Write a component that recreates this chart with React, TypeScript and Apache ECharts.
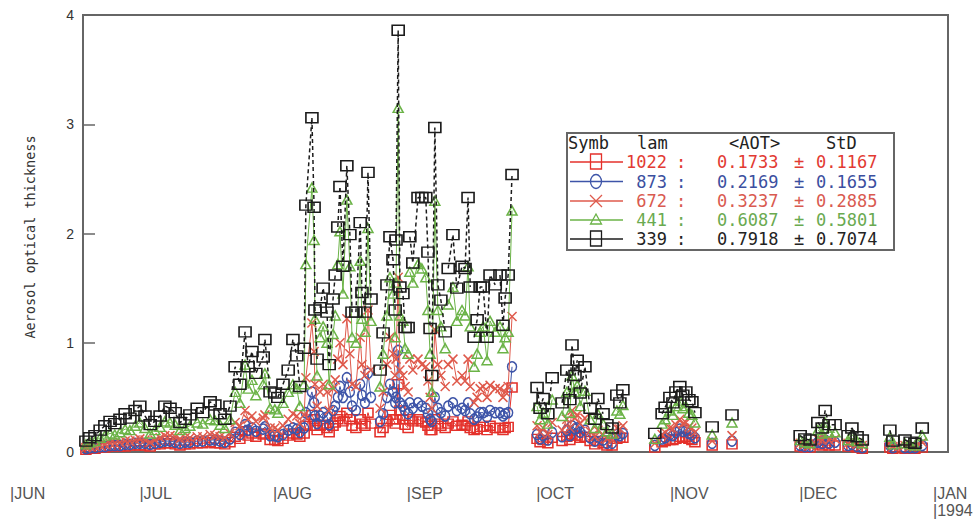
import React, { useEffect, useRef } from "react";
import * as echarts from "echarts";

// x axis: days since 1 June 1993
const monthTicks = [0, 30, 61, 92, 122, 153, 183, 214];
const monthLabels = ["|JUN", "|JUL", "|AUG", "|SEP", "|OCT", "|NOV", "|DEC", "|JAN\n|1994"];

const wavelengths = ["1022", "873", "672", "441", "339"];
const meanAot = ["0.1733", "0.2169", "0.3237", "0.6087", "0.7918"];
const stdAot = ["0.1167", "0.1655", "0.2885", "0.5801", "0.7074"];

// measurement runs (days since 1 June 1993)
const days = [
  [17.6, 18.5, 19.7, 20.9, 22.0, 23.2, 24.3, 25.5, 26.7, 27.8, 29.0, 30.1, 31.3, 32.5, 33.6, 34.8, 35.9, 37.1, 38.3, 39.4, 40.6, 41.7, 43.4, 44.7, 46.4, 47.5, 48.7, 49.8, 51.0, 52.2, 53.3, 54.5, 55.2, 56.1, 57.0, 58.7, 59.1, 60.3, 61.4],
  [62.1, 63.3, 64.5, 65.6, 66.5, 67.2],
  [68.2, 68.6, 70.0, 70.5, 70.7, 71.2],
  [71.9, 72.6, 73.5, 74.0, 74.9, 75.4],
  [76.0, 76.5, 77.2, 78.1, 78.8, 79.3],
  [80.2, 81.2, 81.6, 82.3, 83.0, 83.7],
  [85.8, 86.5, 87.4, 88.1, 88.8, 89.3],
  [89.5, 90.0, 90.4, 91.1, 91.6, 92.3],
  [92.7, 93.4, 94.6, 95.5, 96.4, 96.9, 97.4],
  [97.8, 98.5, 99.2, 99.9, 100.9],
  [101.6, 102.7, 103.6, 104.8, 105.5, 106.2, 106.7],
  [107.6, 108.3, 109.0, 109.7, 110.6, 111.3, 112.5],
  [113.6, 114.3, 114.8, 115.5, 116.4],
  [122.2, 122.9, 123.6, 124.7, 125.7],
  [128.0, 129.1, 129.8, 130.3, 131.0, 131.5, 132.2, 133.3, 134.5],
  [135.6, 136.3, 137.5],
  [138.4, 139.6],
  [140.7, 141.4, 142.1],
  [149.5],
  [151.2, 151.9, 153.0, 153.7, 154.4, 155.3, 156.0, 156.7, 157.4, 158.1, 158.8],
  [162.8],
  [167.4],
  [183.2, 184.3, 185.5],
  [187.3, 188.3, 189.0, 189.9, 191.3],
  [194.3, 195.2, 196.4, 197.6],
  [204.0, 204.7],
  [207.5, 208.7, 209.8, 211.5],
];

const aot339 = [
  [0.10, 0.13, 0.15, 0.20, 0.24, 0.28, 0.26, 0.30, 0.35, 0.31, 0.38, 0.42, 0.33, 0.25, 0.28, 0.33, 0.42, 0.40, 0.36, 0.27, 0.30, 0.34, 0.40, 0.36, 0.46, 0.43, 0.35, 0.30, 0.42, 0.78, 0.62, 1.10, 0.78, 0.92, 0.72, 0.87, 1.03, 0.55, 0.54],
  [0.50, 0.62, 0.75, 1.03, 0.88, 0.60],
  [0.95, 2.26, 3.06, 2.24, 1.30, 0.85],
  [1.32, 1.50, 1.28, 0.80, 1.40, 1.62],
  [2.06, 2.43, 1.70, 2.62, 1.99, 1.28],
  [1.28, 2.10, 1.46, 1.28, 2.56, 1.40],
  [0.75, 1.09, 1.53, 1.97, 1.76, 1.30],
  [1.94, 3.86, 1.51, 1.45, 1.14, 1.14],
  [1.97, 1.73, 2.33, 2.33, 2.33, 1.83, 1.13],
  [0.70, 2.97, 1.53, 1.39, 1.10],
  [1.68, 1.99, 1.50, 1.70, 1.68, 2.33, 1.51],
  [1.05, 1.21, 1.51, 1.51, 1.05, 1.62, 1.53],
  [1.62, 1.16, 1.41, 1.62, 2.54],
  [0.59, 0.40, 0.49, 0.35, 0.68],
  [0.45, 0.75, 0.48, 0.98, 0.70, 0.84, 0.54, 0.78, 0.40],
  [0.30, 0.49, 0.35],
  [0.25, 0.22],
  [0.52, 0.45, 0.57],
  [0.17],
  [0.35, 0.41, 0.50, 0.45, 0.55, 0.60, 0.52, 0.55, 0.48, 0.46, 0.36],
  [0.23],
  [0.34],
  [0.15, 0.12, 0.11],
  [0.27, 0.22, 0.38, 0.25, 0.25],
  [0.15, 0.22, 0.14, 0.11],
  [0.20, 0.10],
  [0.11, 0.09, 0.08, 0.22],
];

const aot441 = [
  [0.07, 0.09, 0.10, 0.13, 0.15, 0.17, 0.16, 0.18, 0.21, 0.20, 0.24, 0.27, 0.22, 0.17, 0.20, 0.23, 0.28, 0.27, 0.25, 0.20, 0.22, 0.24, 0.27, 0.26, 0.30, 0.29, 0.25, 0.22, 0.30, 0.55, 0.45, 0.80, 0.58, 0.66, 0.52, 0.62, 0.72, 0.40, 0.39],
  [0.36, 0.45, 0.55, 0.62, 0.58, 0.42],
  [0.62, 1.72, 2.42, 1.94, 1.22, 0.70],
  [1.05, 1.15, 1.00, 0.62, 1.08, 1.25],
  [1.72, 2.02, 1.45, 2.31, 1.70, 1.05],
  [1.00, 1.75, 1.22, 1.10, 2.05, 1.20],
  [0.60, 0.90, 1.25, 1.60, 1.45, 1.05],
  [1.55, 3.15, 1.25, 1.20, 0.95, 0.90],
  [1.65, 1.55, 1.72, 1.68, 1.60, 1.30, 0.90],
  [0.55, 2.30, 1.30, 1.15, 0.95],
  [1.35, 1.51, 1.20, 1.30, 1.25, 1.70, 1.15],
  [0.78, 0.90, 1.10, 1.15, 0.84, 1.20, 1.10],
  [1.15, 0.95, 1.05, 1.10, 2.21],
  [0.42, 0.30, 0.36, 0.26, 0.48],
  [0.33, 0.55, 0.36, 0.70, 0.55, 0.61, 0.42, 0.56, 0.30],
  [0.22, 0.35, 0.26],
  [0.19, 0.17],
  [0.38, 0.35, 0.43],
  [0.12],
  [0.26, 0.30, 0.38, 0.34, 0.42, 0.47, 0.40, 0.42, 0.36, 0.34, 0.27],
  [0.16],
  [0.27],
  [0.11, 0.09, 0.08],
  [0.20, 0.17, 0.27, 0.18, 0.18],
  [0.11, 0.16, 0.10, 0.08],
  [0.14, 0.07],
  [0.08, 0.07, 0.06, 0.15],
];

const aot672 = [
  [0.04, 0.05, 0.05, 0.06, 0.07, 0.08, 0.08, 0.09, 0.10, 0.10, 0.11, 0.12, 0.11, 0.09, 0.11, 0.13, 0.15, 0.15, 0.14, 0.12, 0.13, 0.13, 0.14, 0.14, 0.16, 0.15, 0.14, 0.13, 0.17, 0.27, 0.24, 0.38, 0.30, 0.33, 0.28, 0.31, 0.34, 0.22, 0.22],
  [0.20, 0.24, 0.30, 0.35, 0.33, 0.26],
  [0.34, 0.68, 1.18, 0.92, 0.62, 0.42],
  [0.55, 0.62, 0.55, 0.38, 0.58, 0.66],
  [0.85, 1.00, 0.80, 1.22, 0.90, 0.62],
  [0.60, 1.05, 0.80, 0.70, 1.30, 0.75],
  [0.40, 0.55, 0.80, 1.05, 0.90, 0.70],
  [0.85, 1.60, 0.75, 0.70, 0.60, 0.55],
  [0.85, 0.75, 0.85, 0.80, 0.78, 0.65, 0.50],
  [0.40, 1.12, 0.80, 0.70, 0.60],
  [0.80, 0.85, 0.65, 0.70, 0.65, 0.85, 0.60],
  [0.45, 0.50, 0.58, 0.60, 0.50, 0.61, 0.58],
  [0.58, 0.50, 0.55, 0.60, 1.24],
  [0.24, 0.18, 0.22, 0.16, 0.27],
  [0.20, 0.30, 0.22, 0.38, 0.31, 0.34, 0.26, 0.31, 0.19],
  [0.14, 0.20, 0.16],
  [0.12, 0.11],
  [0.22, 0.21, 0.24],
  [0.08],
  [0.16, 0.18, 0.22, 0.21, 0.25, 0.30, 0.26, 0.27, 0.23, 0.22, 0.18],
  [0.10],
  [0.15],
  [0.08, 0.07, 0.06],
  [0.12, 0.11, 0.16, 0.11, 0.12],
  [0.08, 0.10, 0.07, 0.06],
  [0.08, 0.05],
  [0.06, 0.05, 0.05, 0.09],
];

const aot873 = [
  [0.03, 0.04, 0.04, 0.05, 0.05, 0.06, 0.06, 0.06, 0.07, 0.07, 0.08, 0.08, 0.08, 0.07, 0.08, 0.09, 0.10, 0.10, 0.09, 0.08, 0.09, 0.09, 0.10, 0.10, 0.11, 0.11, 0.10, 0.09, 0.12, 0.18, 0.16, 0.25, 0.20, 0.22, 0.19, 0.21, 0.23, 0.15, 0.15],
  [0.14, 0.16, 0.20, 0.22, 0.21, 0.18],
  [0.22, 0.36, 0.55, 0.45, 0.33, 0.26],
  [0.33, 0.36, 0.32, 0.25, 0.38, 0.42],
  [0.50, 0.60, 0.50, 0.68, 0.55, 0.42],
  [0.38, 0.62, 0.52, 0.45, 0.72, 0.50],
  [0.28, 0.35, 0.50, 0.62, 0.55, 0.45],
  [0.50, 0.93, 0.45, 0.42, 0.38, 0.35],
  [0.45, 0.40, 0.45, 0.42, 0.40, 0.35, 0.30],
  [0.28, 0.50, 0.40, 0.36, 0.33],
  [0.42, 0.45, 0.38, 0.40, 0.38, 0.45, 0.35],
  [0.30, 0.32, 0.36, 0.36, 0.32, 0.38, 0.36],
  [0.36, 0.33, 0.35, 0.36, 0.78],
  [0.16, 0.12, 0.15, 0.11, 0.18],
  [0.14, 0.20, 0.15, 0.24, 0.21, 0.22, 0.18, 0.20, 0.13],
  [0.10, 0.14, 0.11],
  [0.08, 0.08],
  [0.16, 0.15, 0.17],
  [0.06],
  [0.12, 0.13, 0.16, 0.15, 0.18, 0.21, 0.19, 0.20, 0.17, 0.16, 0.13],
  [0.08],
  [0.10],
  [0.06, 0.05, 0.05],
  [0.09, 0.08, 0.11, 0.08, 0.09],
  [0.06, 0.07, 0.05, 0.04],
  [0.06, 0.04],
  [0.04, 0.04, 0.04, 0.06],
];

const aot1022 = [
  [0.02, 0.03, 0.03, 0.04, 0.04, 0.05, 0.05, 0.05, 0.05, 0.06, 0.06, 0.06, 0.06, 0.05, 0.07, 0.07, 0.08, 0.08, 0.07, 0.06, 0.07, 0.07, 0.08, 0.08, 0.09, 0.08, 0.08, 0.07, 0.09, 0.14, 0.12, 0.19, 0.15, 0.17, 0.14, 0.16, 0.17, 0.11, 0.11],
  [0.10, 0.12, 0.15, 0.17, 0.16, 0.14],
  [0.17, 0.24, 0.34, 0.30, 0.24, 0.20],
  [0.24, 0.25, 0.22, 0.18, 0.24, 0.27],
  [0.30, 0.33, 0.28, 0.36, 0.30, 0.24],
  [0.22, 0.30, 0.26, 0.24, 0.36, 0.26],
  [0.18, 0.22, 0.28, 0.34, 0.30, 0.26],
  [0.30, 0.62, 0.38, 0.30, 0.25, 0.22],
  [0.30, 0.28, 0.30, 0.28, 0.27, 0.24, 0.20],
  [0.20, 0.30, 0.26, 0.24, 0.22],
  [0.26, 0.28, 0.24, 0.25, 0.24, 0.28, 0.22],
  [0.20, 0.21, 0.23, 0.23, 0.20, 0.24, 0.22],
  [0.22, 0.20, 0.22, 0.23, 0.59],
  [0.12, 0.09, 0.11, 0.08, 0.13],
  [0.10, 0.14, 0.11, 0.16, 0.15, 0.15, 0.13, 0.14, 0.10],
  [0.07, 0.10, 0.08],
  [0.06, 0.06],
  [0.12, 0.13, 0.13],
  [0.04],
  [0.09, 0.10, 0.11, 0.11, 0.12, 0.14, 0.13, 0.14, 0.12, 0.11, 0.09],
  [0.06],
  [0.07],
  [0.05, 0.04, 0.04],
  [0.07, 0.06, 0.08, 0.06, 0.06],
  [0.05, 0.05, 0.04, 0.03],
  [0.04, 0.03],
  [0.03, 0.03, 0.03, 0.04],
];

const colors = ["#e4312b", "#3d54a8", "#df5a4c", "#6bb347", "#1c1c1c"];
const textColors = ["#e23a32", "#3b4fa0", "#d95a50", "#6aaa50", "#222222"];

const X_PATH = "path://M0,0L10,10M10,0L0,10";

function build(vals: number[][]) {
  const out: any[] = [];
  days.forEach((seg, i) => {
    if (i > 0) out.push(["-", "-"]);
    seg.forEach((d, j) => out.push([d, vals[i][j]]));
  });
  return out;
}

export default function App() {
  const ref = useRef<HTMLDivElement>(null);
  useEffect(() => {
    if (!ref.current) return;
    const chart = echarts.init(ref.current, null, { renderer: "svg" });
    const seriesVals = [aot1022, aot873, aot672, aot441, aot339];
    const symbols: any[] = ["rect", "circle", X_PATH, "triangle", "rect"];
    const sizes: any[] = [[10, 9], [9, 10], 9, [10, 9], [12, 10]];
    const series = seriesVals.map((v, i) => ({
      type: "line",
      name: wavelengths[i],
      xAxisIndex: 1,
      yAxisIndex: 1,
      data: build(v),
      symbol: symbols[i],
      symbolSize: sizes[i],
      showSymbol: true,
      connectNulls: false,
      lineStyle: {
        color: colors[i],
        width: i === 4 ? 1.5 : 1,
        type: i === 4 ? [4, 3] : "solid",
      },
      itemStyle: {
        color: "rgba(0,0,0,0)",
        borderColor: colors[i],
        borderWidth: 1.5,
      },
      emphasis: { disabled: true },
      z: 2 + i,
    }));

    const rowY = [162, 181.5, 201, 220, 239];
    const legendEls: any[] = [
      {
        type: "rect",
        shape: { x: 567, y: 133, width: 327, height: 117 },
        style: { fill: "#fff", stroke: "#666", lineWidth: 2 },
        z: 100,
      },
    ];
    const font = '17px "DejaVu Sans Mono", monospace';
    const header = [
      ["Symb", 568],
      ["lam", 637],
      ["<AOT>", 729],
      ["StD", 826],
    ];
    header.forEach(([t, x]) =>
      legendEls.push({
        type: "text",
        x: x as number,
        y: 143,
        style: { text: t as string, font, fill: "#222", align: "left", verticalAlign: "middle" },
        z: 101,
      })
    );
    wavelengths.forEach((w, i) => {
      const y = rowY[i];
      const c = colors[i];
      legendEls.push({
        type: "line",
        shape: { x1: 570, y1: y, x2: 623, y2: y },
        style: { stroke: c, lineWidth: 1.3 },
        z: 101,
      });
      if (i === 0 || i === 4) {
        legendEls.push({
          type: "rect",
          shape: { x: 590.5, y: y - 8, width: 11, height: 15 },
          style: { fill: "none", stroke: c, lineWidth: 1.3 },
          z: 102,
        });
      } else if (i === 1) {
        legendEls.push({
          type: "ellipse",
          shape: { cx: 596, cy: y, rx: 5.5, ry: 7 },
          style: { fill: "none", stroke: c, lineWidth: 1.3 },
          z: 102,
        });
      } else if (i === 2) {
        legendEls.push({
          type: "line",
          shape: { x1: 590, y1: y - 6, x2: 602, y2: y + 6 },
          style: { stroke: c, lineWidth: 1.3 },
          z: 102,
        });
        legendEls.push({
          type: "line",
          shape: { x1: 602, y1: y - 6, x2: 590, y2: y + 6 },
          style: { stroke: c, lineWidth: 1.3 },
          z: 102,
        });
      } else {
        legendEls.push({
          type: "polygon",
          shape: { points: [[596, y - 6], [590.5, y + 4], [601.5, y + 4]] },
          style: { fill: "none", stroke: c, lineWidth: 1.3 },
          z: 102,
        });
      }
      const tc = textColors[i];
      legendEls.push({
        type: "text",
        x: 667,
        y,
        style: { text: w, font, fill: tc, align: "right", verticalAlign: "middle" },
        z: 101,
      });
      legendEls.push({
        type: "text",
        x: 681,
        y,
        style: { text: ":", font, fill: tc, align: "center", verticalAlign: "middle" },
        z: 101,
      });
      legendEls.push({
        type: "text",
        x: 717,
        y,
        style: { text: meanAot[i], font, fill: tc, align: "left", verticalAlign: "middle" },
        z: 101,
      });
      legendEls.push({
        type: "text",
        x: 799,
        y,
        style: { text: "±", font, fill: tc, align: "center", verticalAlign: "middle" },
        z: 101,
      });
      legendEls.push({
        type: "text",
        x: 816,
        y,
        style: { text: stdAot[i], font, fill: tc, align: "left", verticalAlign: "middle" },
        z: 101,
      });
    });

    const option: any = {
      animation: false,
      backgroundColor: "#ffffff",
      grid: [
        {
          left: 83,
          right: 32,
          top: 15,
          bottom: 77,
          show: true,
          borderColor: "#666",
          borderWidth: 2,
          backgroundColor: "transparent",
        },
        { left: 10, right: 47, top: 15, bottom: 77, show: false },
      ],
      xAxis: [
        { gridIndex: 0, type: "value", min: 0, max: 1, show: false },
        {
          gridIndex: 1,
          type: "value",
          min: 0,
          max: 214,
          axisLine: { show: false },
          axisTick: { show: false },
          splitLine: { show: false },
          axisLabel: {
            customValues: monthTicks,
            formatter: (v: number) => {
              const k = monthTicks.indexOf(Math.round(v));
              return k >= 0 ? monthLabels[k] : "";
            },
            showMinLabel: true,
            showMaxLabel: true,
            align: "left",
            verticalAlign: "top",
            margin: 33,
            fontSize: 16,
            lineHeight: 17,
            fontFamily: "'Liberation Sans Narrow', 'Liberation Sans', sans-serif",
            color: "#555",
          },
        },
      ],
      yAxis: [
        {
          gridIndex: 0,
          type: "value",
          min: 0,
          max: 4,
          interval: 1,
          axisLine: { show: false },
          axisTick: { show: true, inside: true, length: 12, lineStyle: { color: "#666", width: 1.5 } },
          splitLine: { show: false },
          axisLabel: {
            margin: 9,
            fontSize: 14,
            color: "#333",
            fontFamily: "'Liberation Sans', sans-serif",
          },
        },
        { gridIndex: 1, type: "value", min: 0, max: 4, show: false },
      ],
      series,
      graphic: [
        {
          type: "text",
          x: 30,
          y: 237,
          rotation: Math.PI / 2,
          style: {
            text: "Aerosol optical thickness",
            font: '13.5px "DejaVu Sans Mono", monospace',
            fill: "#333",
            align: "center",
            verticalAlign: "middle",
          },
        },
        ...legendEls,
      ],
    };
    chart.setOption(option);
    return () => chart.dispose();
  }, []);
  return (
    <div
      ref={ref}
      style={{ position: "fixed", left: 0, top: 0, width: 980, height: 529, background: "#fff" }}
    />
  );
}
